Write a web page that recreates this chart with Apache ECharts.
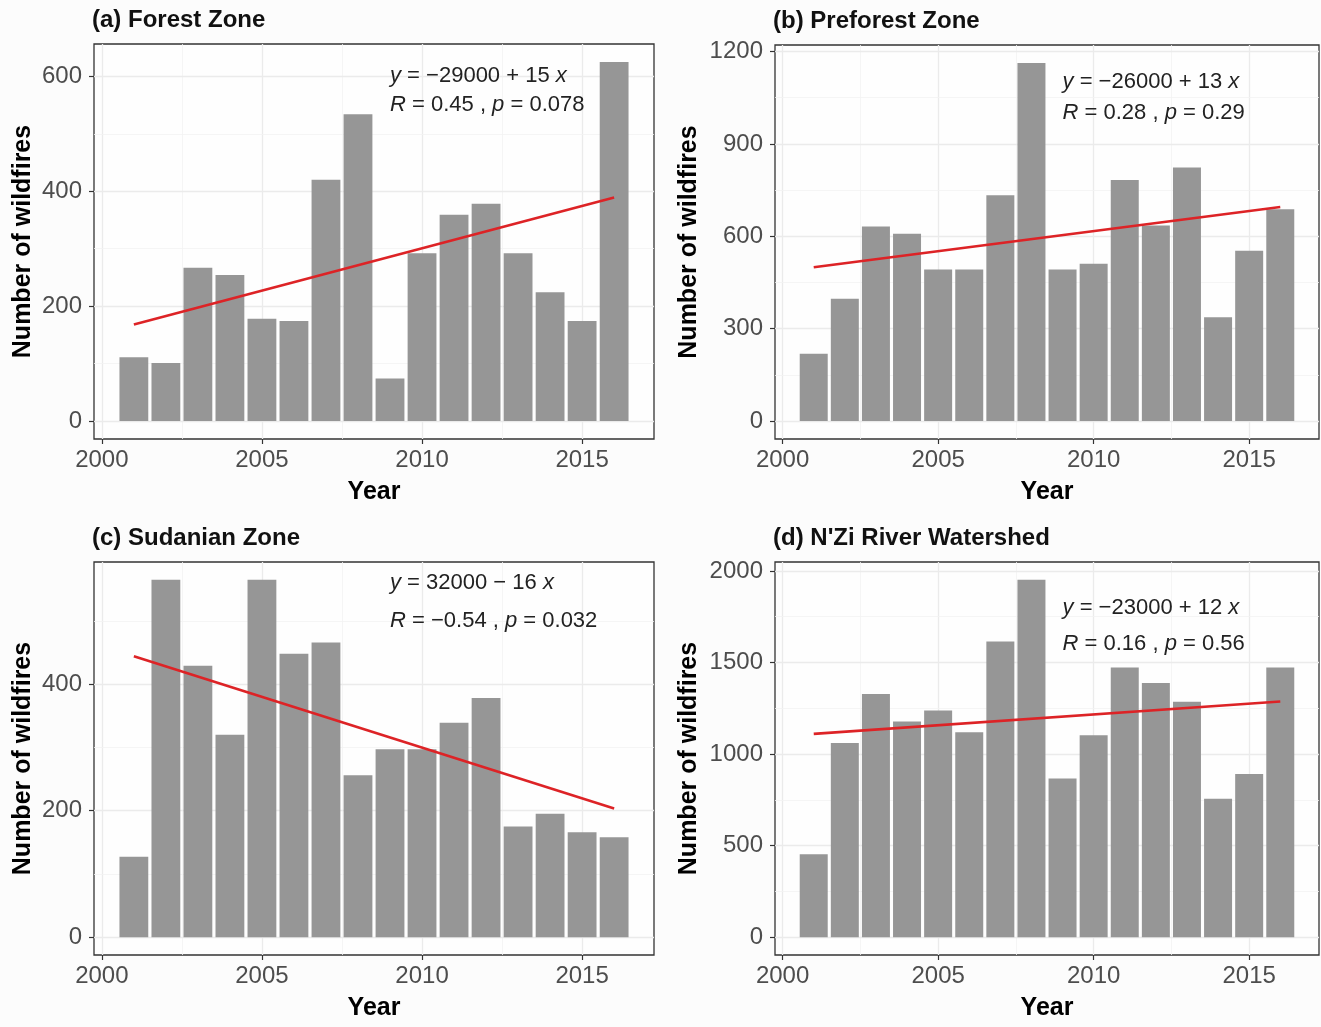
<!DOCTYPE html>
<html lang="en">
<head>
<meta charset="UTF-8">
<title>Number of wildfires per year</title>
<script src="https://cdn.jsdelivr.net/npm/echarts@6/dist/echarts.min.js"></script>
<style>
  html, body { margin: 0; padding: 0; background: #fcfcfc; }
  #chart { width: 1321px; height: 1027px; }
</style>
</head>
<body>
<div id="chart"></div>
<script>
// yearly wildfire counts
var years = [2001, 2002, 2003, 2004, 2005, 2006, 2007, 2008, 2009, 2010, 2011, 2012, 2013, 2014, 2015, 2016];
var forest = [111, 101, 267, 254, 178, 174, 420, 534, 74, 292, 359, 378, 292, 224, 174, 625];
var preforest = [219, 397, 632, 608, 492, 492, 733, 1163, 492, 511, 783, 635, 823, 337, 553, 688];
var sudanian = [127, 565, 429, 320, 565, 448, 466, 256, 297, 297, 339, 378, 175, 195, 166, 158];
var nzi = [452, 1060, 1328, 1177, 1237, 1119, 1614, 1951, 866, 1102, 1472, 1388, 1286, 756, 891, 1472];

// axis breaks
var xTicks = [2000, 2005, 2010, 2015];
var xMinor = [2002.5, 2007.5, 2012.5];
var yTicksA = [0, 200, 400, 600];
var yMinorA = [100, 300, 500];
var yTicksB = [0, 300, 600, 900, 1200];
var yMinorB = [150, 450, 750, 1050];
var yTicksC = [0, 200, 400];
var yMinorC = [100, 300, 500];
var yTicksD = [0, 500, 1000, 1500, 2000];
var yMinorD = [250, 750, 1250, 1750];

// regression labels
var eqA = ['{i|y} = \u221229000 + 15 {i|x}', '{i|R} = 0.45 , {i|p} = 0.078'];
var eqB = ['{i|y} = \u221226000 + 13 {i|x}', '{i|R} = 0.28 , {i|p} = 0.29'];
var eqC = ['{i|y} = 32000 \u2212 16 {i|x}', '{i|R} = \u22120.54 , {i|p} = 0.032'];
var eqD = ['{i|y} = \u221223000 + 12 {i|x}', '{i|R} = 0.16 , {i|p} = 0.56'];

var FONT = '"Liberation Sans", Arial, sans-serif';

var panels = [
    {title: '(a) Forest Zone', values: forest, ticks: yTicksA, minor: yMinorA, eq: eqA, labelY: [600, 550],
     left: 94, top: 44, width: 560, height: 395, nameGap: 58},
    {title: '(b) Preforest Zone', values: preforest, ticks: yTicksB, minor: yMinorB, eq: eqB, labelY: [1100, 1000],
     left: 775, top: 45, width: 544, height: 394, nameGap: 73},
    {title: '(c) Sudanian Zone', values: sudanian, ticks: yTicksC, minor: yMinorC, eq: eqC, labelY: [560, 500],
     left: 94, top: 562, width: 560, height: 393, nameGap: 58},
    {title: "(d) N'Zi River Watershed", values: nzi, ticks: yTicksD, minor: yMinorD, eq: eqD, labelY: [1800, 1600],
     left: 775, top: 562, width: 544, height: 393, nameGap: 73}
];

// least squares fit on the counts
function fit(xs, ys) {
    var n = xs.length, mx = 0, my = 0, sxy = 0, sxx = 0;
    for (var i = 0; i < n; i++) { mx += xs[i]; my += ys[i]; }
    mx /= n; my /= n;
    for (var j = 0; j < n; j++) {
        sxy += (xs[j] - mx) * (ys[j] - my);
        sxx += (xs[j] - mx) * (xs[j] - mx);
    }
    var b = sxy / sxx;
    return function (x) { return my + b * (x - mx); };
}

function plain(v) { return String(v); }

var x0 = years[0] - 0.45, x1 = years[years.length - 1] + 0.45;
var xMin = x0 - 0.05 * (x1 - x0), xMax = x1 + 0.05 * (x1 - x0);

var option = {
    animation: false,
    backgroundColor: '#fcfcfc',
    textStyle: {fontFamily: FONT},
    title: [], grid: [], xAxis: [], yAxis: [], series: []
};

panels.forEach(function (p, k) {
    var yMax = Math.max.apply(null, p.values);
    option.title.push({
        text: p.title, left: p.left - 2, top: p.top - 36, padding: 0,
        textStyle: {fontFamily: FONT, fontSize: 24, fontWeight: 'bold', color: '#111'}
    });
    option.grid.push({
        left: p.left, top: p.top, width: p.width, height: p.height,
        show: true, backgroundColor: '#fefefe', borderColor: '#333', borderWidth: 1.3
    });
    option.xAxis.push({
        type: 'value', gridIndex: k, min: xMin, max: xMax,
        name: 'Year', nameLocation: 'middle', nameGap: 41,
        nameTextStyle: {fontFamily: FONT, fontSize: 25, fontWeight: 'bold', color: '#000'},
        axisLine: {show: false, onZero: false},
        axisTick: {show: true, length: 5, customValues: xTicks, lineStyle: {color: '#333', width: 1.2}},
        axisLabel: {customValues: xTicks, formatter: plain, margin: 9, fontSize: 24, color: '#4d4d4d', fontFamily: FONT},
        splitLine: {show: false}
    });
    option.yAxis.push({
        type: 'value', gridIndex: k, min: -0.05 * yMax, max: 1.05 * yMax,
        name: 'Number of wildfires', nameLocation: 'middle', nameGap: p.nameGap,
        nameTextStyle: {fontFamily: FONT, fontSize: 25, fontWeight: 'bold', color: '#000'},
        axisLine: {show: false},
        axisTick: {show: true, length: 5, customValues: p.ticks, lineStyle: {color: '#333', width: 1.2}},
        axisLabel: {customValues: p.ticks, formatter: plain, margin: 12, fontSize: 24, color: '#4d4d4d', fontFamily: FONT},
        splitLine: {show: false}
    });

    // panel grid lines, behind the bars
    var gl = [];
    xTicks.forEach(function (v) { gl.push({xAxis: v, lineStyle: {color: '#ebebeb', width: 1.3}}); });
    xMinor.forEach(function (v) { gl.push({xAxis: v, lineStyle: {color: '#f3f3f3', width: 0.8}}); });
    p.ticks.forEach(function (v) { gl.push({yAxis: v, lineStyle: {color: '#ebebeb', width: 1.3}}); });
    p.minor.forEach(function (v) { gl.push({yAxis: v, lineStyle: {color: '#f3f3f3', width: 0.8}}); });
    option.series.push({
        type: 'line', xAxisIndex: k, yAxisIndex: k, data: [], z: 1, silent: true,
        markLine: {z: 1, silent: true, symbol: ['none', 'none'], label: {show: false},
                   lineStyle: {type: 'solid'}, data: gl}
    });

    option.series.push({
        type: 'bar', xAxisIndex: k, yAxisIndex: k, z: 2, barWidth: '90%',
        itemStyle: {color: '#969696'},
        data: years.map(function (y, i) { return [y, p.values[i]]; })
    });

    var f = fit(years, p.values);
    var first = years[0], last = years[years.length - 1];
    option.series.push({
        type: 'line', xAxisIndex: k, yAxisIndex: k, z: 3,
        showSymbol: false, symbol: 'none',
        lineStyle: {color: '#dd2326', width: 2.6},
        data: [[first, f(first)], [last, f(last)]],
        markPoint: {
            z: 4, symbol: 'circle', symbolSize: 0, silent: true,
            label: {show: true, position: 'right', distance: 0, fontFamily: FONT, fontSize: 22, color: '#222',
                    rich: {i: {fontFamily: FONT, fontSize: 22, color: '#222', fontStyle: 'italic'}}},
            data: [
                {coord: [2009, p.labelY[0]], label: {formatter: p.eq[0]}},
                {coord: [2009, p.labelY[1]], label: {formatter: p.eq[1]}}
            ]
        }
    });
});

var chart = echarts.init(document.getElementById('chart'));
chart.setOption(option);
</script>
</body>
</html>
